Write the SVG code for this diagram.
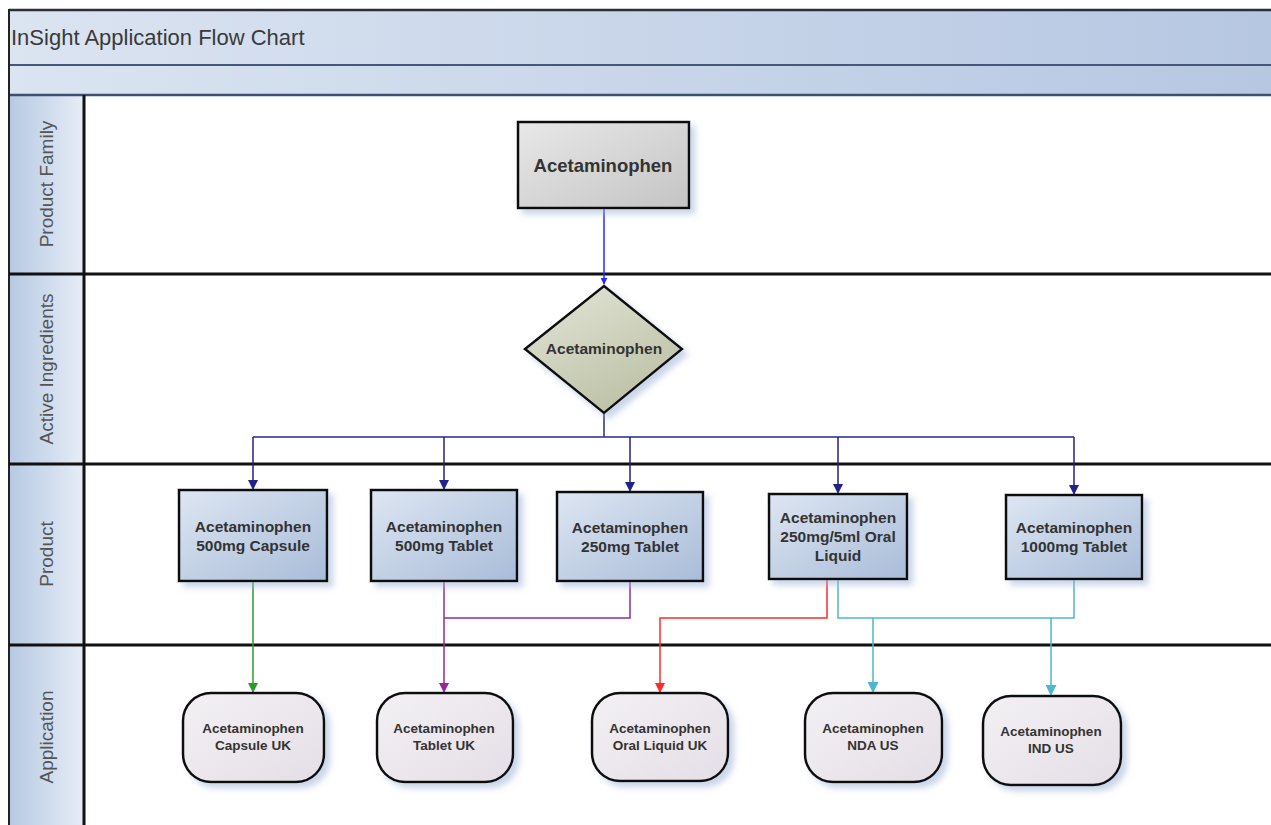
<svg xmlns="http://www.w3.org/2000/svg" width="1271" height="825" viewBox="0 0 1271 825">
<style>
  .lbl{font-family:"Liberation Sans",Arial,sans-serif;font-weight:bold;fill:#333;text-anchor:middle;dominant-baseline:central}
  .lane{font-family:"Liberation Sans",Arial,sans-serif;font-size:19px;fill:#555;text-anchor:middle;dominant-baseline:central}
  .sep{stroke:#111;stroke-width:3;fill:none}
  .box{stroke:#111;stroke-width:2.5}
  .c{fill:none;stroke-width:1.5}
</style>
<defs>
  <linearGradient id="gTitle" x1="0" y1="0" x2="1" y2="0">
    <stop offset="0" stop-color="#dbe4f1"/>
    <stop offset="1" stop-color="#b6c7e2"/>
  </linearGradient>
  <linearGradient id="gHead" x1="0" y1="0" x2="1" y2="0">
    <stop offset="0" stop-color="#b7c9e3"/>
    <stop offset="1" stop-color="#e6edf6"/>
  </linearGradient>
  <linearGradient id="gPF" x1="0" y1="0" x2="1" y2="1">
    <stop offset="0" stop-color="#e8e8e8"/>
    <stop offset="1" stop-color="#c4c4c4"/>
  </linearGradient>
  <linearGradient id="gAI" x1="0" y1="0" x2="0.6" y2="1">
    <stop offset="0" stop-color="#e4e6d8"/>
    <stop offset="1" stop-color="#bcc1a6"/>
  </linearGradient>
  <linearGradient id="gP" x1="0" y1="0" x2="1" y2="1">
    <stop offset="0" stop-color="#dde6f3"/>
    <stop offset="1" stop-color="#a9bcd8"/>
  </linearGradient>
  <linearGradient id="gA" x1="0" y1="0" x2="1" y2="1">
    <stop offset="0" stop-color="#f3f0f4"/>
    <stop offset="1" stop-color="#e4dfe6"/>
  </linearGradient>
  <filter id="sh" x="-20%" y="-20%" width="150%" height="150%">
    <feDropShadow dx="5" dy="5" stdDeviation="3" flood-color="#9fb2d6" flood-opacity="0.55"/>
  </filter>
  <marker id="aBlue" viewBox="0 0 10 10" refX="9" refY="5" markerWidth="7" markerHeight="7" orient="auto" markerUnits="userSpaceOnUse"><path d="M0,0 L10,5 L0,10 z" fill="#2a2aff"/></marker>
  <marker id="aNavy" viewBox="0 0 10 10" refX="9" refY="5" markerWidth="10" markerHeight="10" orient="auto" markerUnits="userSpaceOnUse"><path d="M0,0 L10,5 L0,10 z" fill="#22228a"/></marker>
  <marker id="aGreen" viewBox="0 0 10 10" refX="9" refY="5" markerWidth="10" markerHeight="10" orient="auto" markerUnits="userSpaceOnUse"><path d="M0,0 L10,5 L0,10 z" fill="#2e9a2e"/></marker>
  <marker id="aPurple" viewBox="0 0 10 10" refX="9" refY="5" markerWidth="10" markerHeight="10" orient="auto" markerUnits="userSpaceOnUse"><path d="M0,0 L10,5 L0,10 z" fill="#932a9c"/></marker>
  <marker id="aRed" viewBox="0 0 10 10" refX="9" refY="5" markerWidth="10" markerHeight="10" orient="auto" markerUnits="userSpaceOnUse"><path d="M0,0 L10,5 L0,10 z" fill="#ff2a2a"/></marker>
  <marker id="aCyan" viewBox="0 0 10 10" refX="9" refY="5" markerWidth="11" markerHeight="11" orient="auto" markerUnits="userSpaceOnUse"><path d="M0,0 L10,5 L0,10 z" fill="#4db8cc"/></marker>
</defs>

<rect width="1271" height="825" fill="#ffffff"/>

<g id="pool">
  <rect x="9" y="10" width="1270" height="55" fill="url(#gTitle)"/>
  <rect x="9" y="65" width="1270" height="30" fill="url(#gTitle)"/>
  <rect x="9" y="95" width="75" height="735" fill="url(#gHead)"/>
  <line x1="9" y1="10" x2="1271" y2="10" stroke="#2a2f3a" stroke-width="2.5"/>
  <line x1="9" y1="65" x2="1271" y2="65" stroke="#46577a" stroke-width="2"/>
  <line x1="9" y1="95" x2="1271" y2="95" stroke="#3f4f70" stroke-width="2.5"/>
  <line x1="9" y1="9" x2="9" y2="825" stroke="#222" stroke-width="2"/>
  <line class="sep" x1="84" y1="95" x2="84" y2="825"/>
  <line class="sep" x1="9" y1="274" x2="1271" y2="274"/>
  <line class="sep" x1="9" y1="464" x2="1271" y2="464"/>
  <line class="sep" x1="9" y1="645" x2="1271" y2="645"/>
  <text x="11" y="37" font-family="Liberation Sans, Arial, sans-serif" font-size="22" fill="#3a3a3a" dominant-baseline="central">InSight Application Flow Chart</text>
  <text class="lane" transform="translate(46,184) rotate(-90)">Product Family</text>
  <text class="lane" transform="translate(46,369) rotate(-90)">Active Ingredients</text>
  <text class="lane" transform="translate(46,554) rotate(-90)">Product</text>
  <text class="lane" transform="translate(46,737) rotate(-90)">Application</text>
</g>

<g id="connectors">
  <path class="c" d="M604,208 V284" stroke="#2a2aff" marker-end="url(#aBlue)"/>
  <path class="c" d="M604,413 V437 M253,437 H1074" stroke="#2a2a96"/>
  <path class="c" d="M253,437 V489" stroke="#22228a" marker-end="url(#aNavy)"/>
  <path class="c" d="M444,437 V489" stroke="#22228a" marker-end="url(#aNavy)"/>
  <path class="c" d="M630,437 V491" stroke="#22228a" marker-end="url(#aNavy)"/>
  <path class="c" d="M838,437 V493" stroke="#22228a" marker-end="url(#aNavy)"/>
  <path class="c" d="M1074,437 V494" stroke="#22228a" marker-end="url(#aNavy)"/>
  <path class="c" d="M253,581 V692" stroke="#2e9a2e" marker-end="url(#aGreen)"/>
  <path class="c" d="M444,581 V692" stroke="#932a9c" marker-end="url(#aPurple)"/>
  <path class="c" d="M630,581 V618 H444" stroke="#932a9c"/>
  <path class="c" d="M827,579 V618 H660 V692" stroke="#ff2a2a" marker-end="url(#aRed)"/>
  <path class="c" d="M838,579 V618 H1074 V579" stroke="#4db8cc"/>
  <path class="c" d="M873,618 V692" stroke="#4db8cc" marker-end="url(#aCyan)"/>
  <path class="c" d="M1051,618 V695" stroke="#4db8cc" marker-end="url(#aCyan)"/>
</g>

<g id="pf-acetaminophen">
  <rect class="box" x="518" y="122" width="171" height="86" fill="url(#gPF)" filter="url(#sh)"/>
  <text class="lbl" x="603" y="165" font-size="18.5">Acetaminophen</text>
</g>

<g id="ai-acetaminophen">
  <path class="box" d="M604,286 L682,349 L604,413 L525,349 Z" fill="url(#gAI)" filter="url(#sh)"/>
  <text class="lbl" x="604" y="348" font-size="15.5">Acetaminophen</text>
</g>

<g id="p-500cap">
  <rect class="box" x="179" y="490" width="148" height="91" fill="url(#gP)" filter="url(#sh)"/>
  <text class="lbl" x="253" y="526" font-size="15.5">Acetaminophen</text>
  <text class="lbl" x="253" y="545" font-size="15.5">500mg Capsule</text>
</g>
<g id="p-500tab">
  <rect class="box" x="371" y="490" width="146" height="91" fill="url(#gP)" filter="url(#sh)"/>
  <text class="lbl" x="444" y="526" font-size="15.5">Acetaminophen</text>
  <text class="lbl" x="444" y="545" font-size="15.5">500mg Tablet</text>
</g>
<g id="p-250tab">
  <rect class="box" x="557" y="492" width="146" height="89" fill="url(#gP)" filter="url(#sh)"/>
  <text class="lbl" x="630" y="527" font-size="15.5">Acetaminophen</text>
  <text class="lbl" x="630" y="546" font-size="15.5">250mg Tablet</text>
</g>
<g id="p-250liq">
  <rect class="box" x="769" y="494" width="138" height="85" fill="url(#gP)" filter="url(#sh)"/>
  <text class="lbl" x="838" y="517" font-size="15.5">Acetaminophen</text>
  <text class="lbl" x="838" y="536" font-size="15.5">250mg/5ml Oral</text>
  <text class="lbl" x="838" y="555" font-size="15.5">Liquid</text>
</g>
<g id="p-1000tab">
  <rect class="box" x="1006" y="495" width="136" height="84" fill="url(#gP)" filter="url(#sh)"/>
  <text class="lbl" x="1074" y="527" font-size="15.5">Acetaminophen</text>
  <text class="lbl" x="1074" y="546" font-size="15.5">1000mg Tablet</text>
</g>

<g id="a-capuk">
  <rect class="box" x="183" y="693" width="141" height="89" rx="28" fill="url(#gA)" filter="url(#sh)"/>
  <text class="lbl" x="253" y="728" font-size="13.5">Acetaminophen</text>
  <text class="lbl" x="253" y="745" font-size="13.5">Capsule UK</text>
</g>
<g id="a-tabuk">
  <rect class="box" x="377" y="693" width="136" height="89" rx="28" fill="url(#gA)" filter="url(#sh)"/>
  <text class="lbl" x="444" y="728" font-size="13.5">Acetaminophen</text>
  <text class="lbl" x="444" y="745" font-size="13.5">Tablet UK</text>
</g>
<g id="a-oraluk">
  <rect class="box" x="592" y="693" width="136" height="88" rx="28" fill="url(#gA)" filter="url(#sh)"/>
  <text class="lbl" x="660" y="728" font-size="13.5">Acetaminophen</text>
  <text class="lbl" x="660" y="745" font-size="13.5">Oral Liquid UK</text>
</g>
<g id="a-ndaus">
  <rect class="box" x="805" y="693" width="137" height="89" rx="28" fill="url(#gA)" filter="url(#sh)"/>
  <text class="lbl" x="873" y="728" font-size="13.5">Acetaminophen</text>
  <text class="lbl" x="873" y="745" font-size="13.5">NDA US</text>
</g>
<g id="a-indus">
  <rect class="box" x="983" y="696" width="138" height="89" rx="28" fill="url(#gA)" filter="url(#sh)"/>
  <text class="lbl" x="1051" y="731" font-size="13.5">Acetaminophen</text>
  <text class="lbl" x="1051" y="748" font-size="13.5">IND US</text>
</g>
</svg>
